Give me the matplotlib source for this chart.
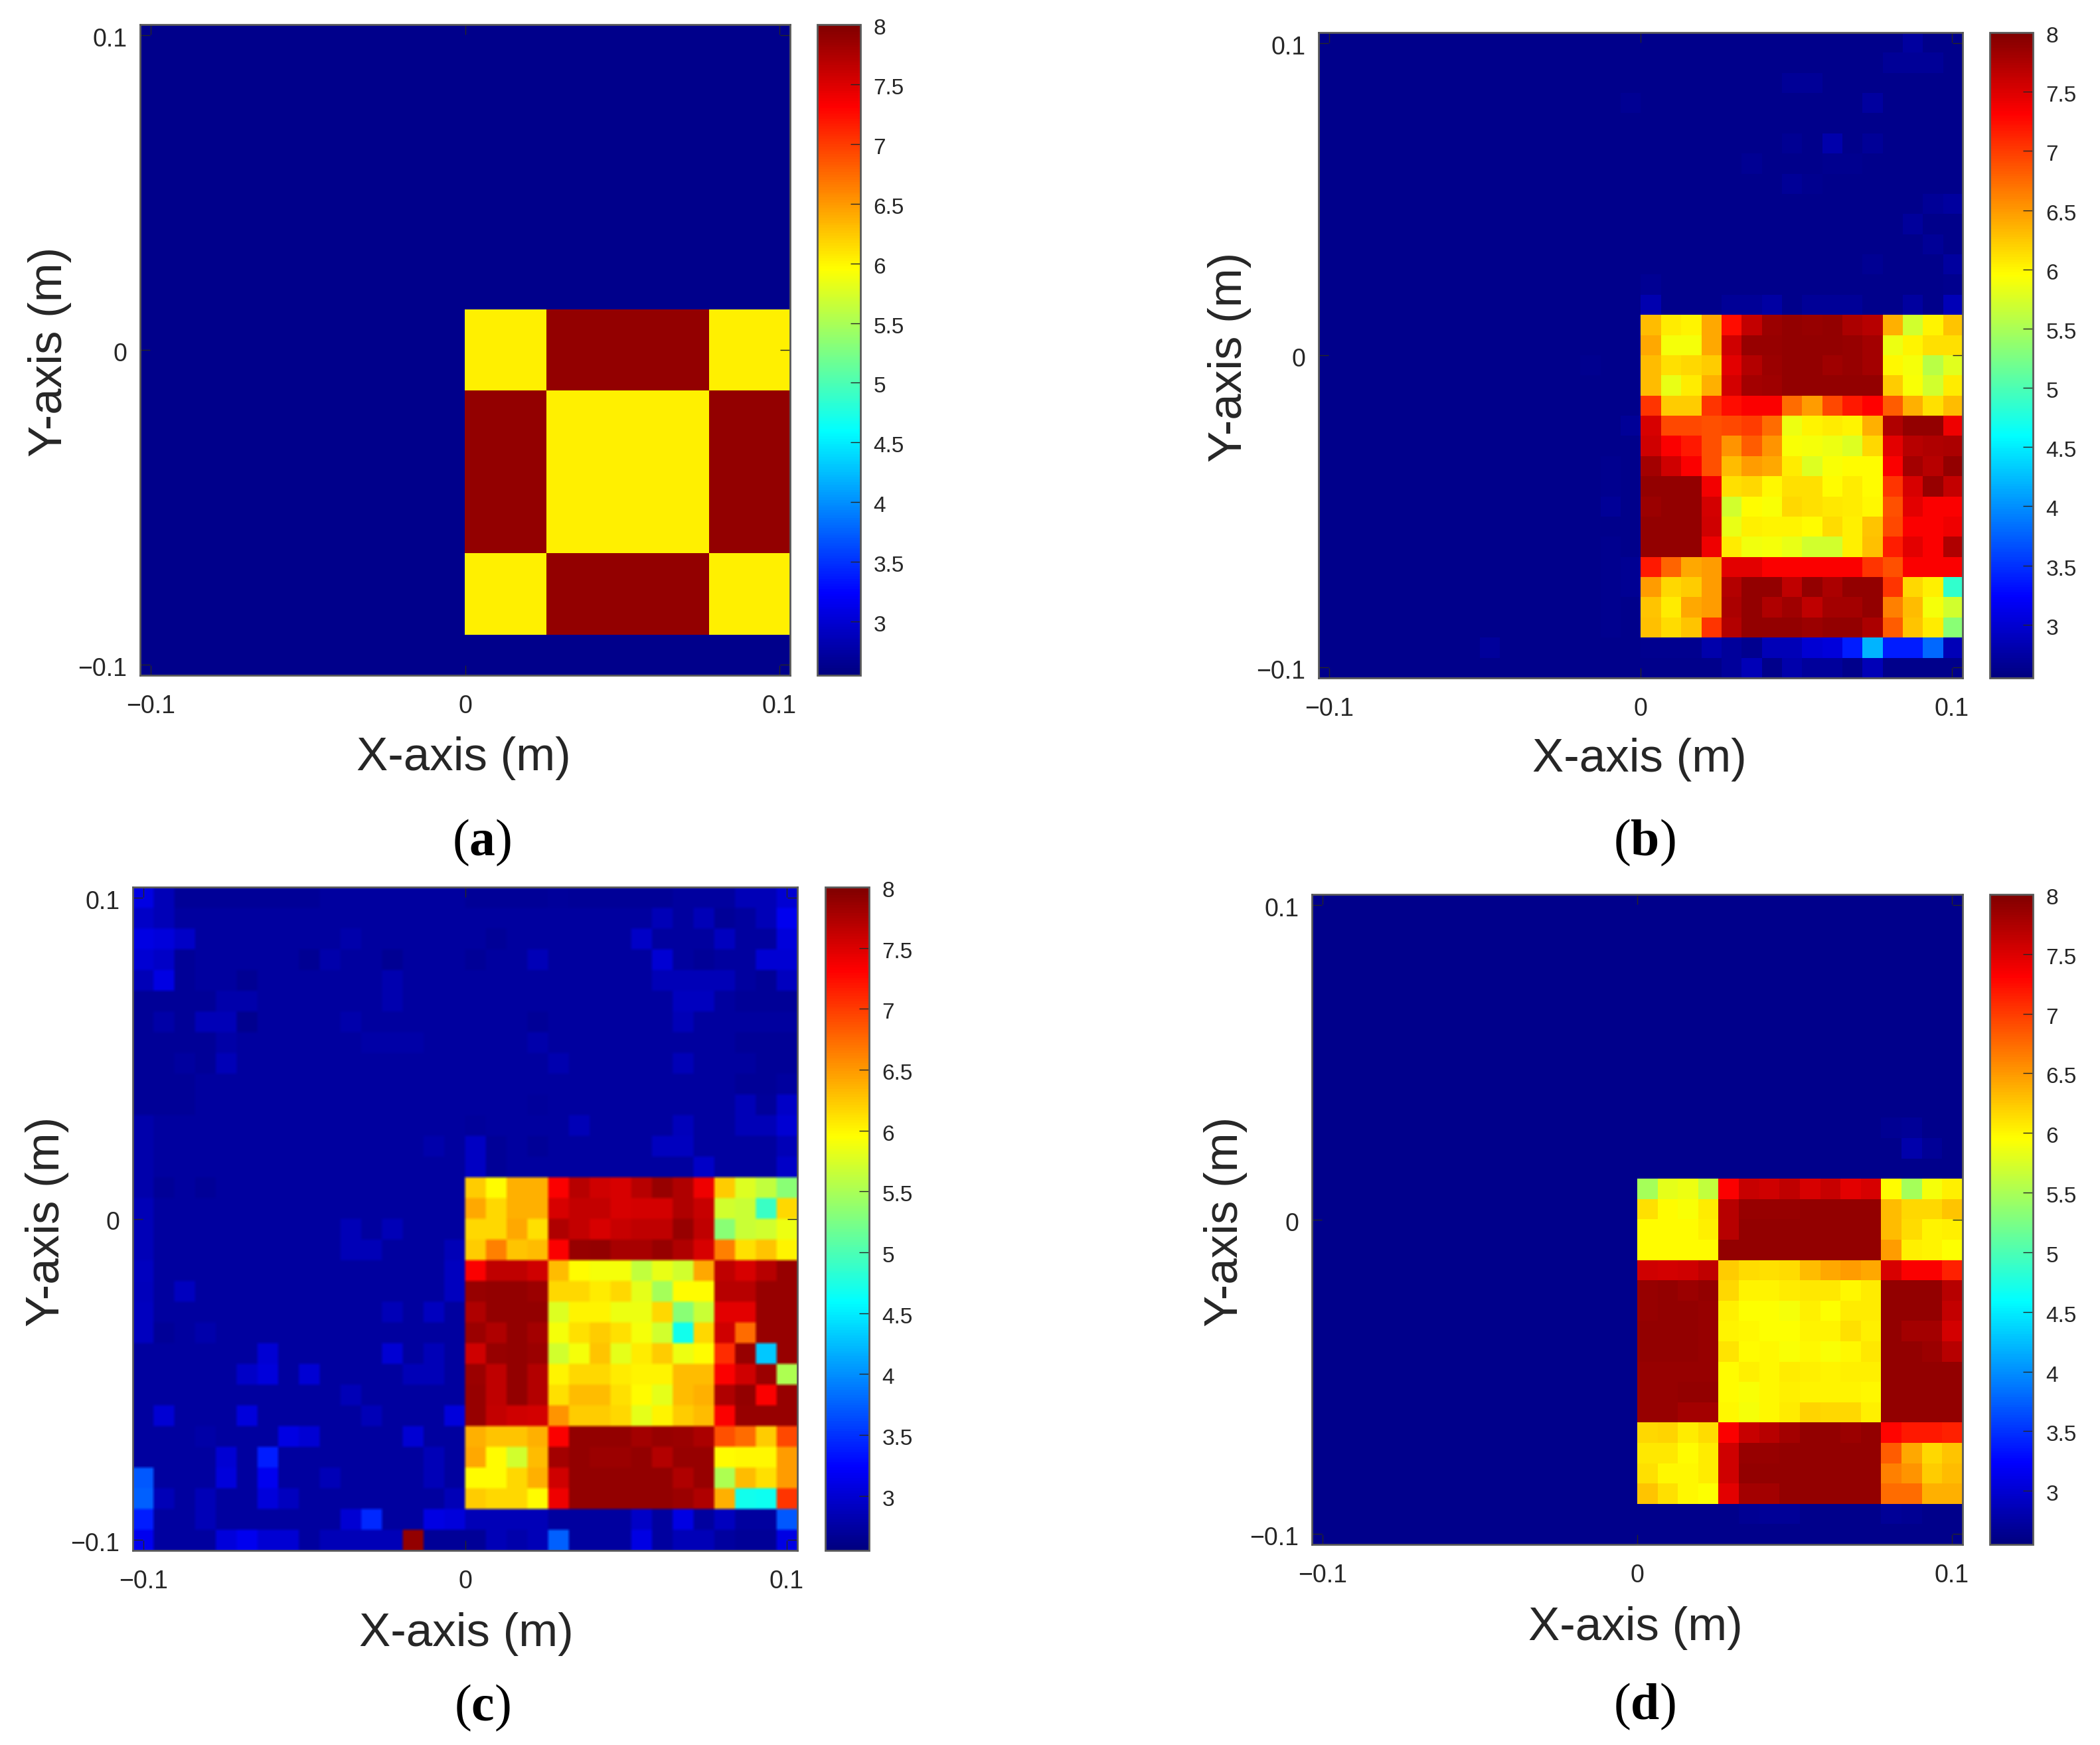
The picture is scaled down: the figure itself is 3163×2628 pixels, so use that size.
import numpy as np
import matplotlib
matplotlib.use("Agg")
import matplotlib.pyplot as plt
from matplotlib.colors import LinearSegmentedColormap, Normalize
from matplotlib.cm import ScalarMappable
from matplotlib.transforms import ScaledTranslation

plt.rcParams['font.family'] = ['Liberation Sans', 'DejaVu Sans']
plt.rcParams['mathtext.fontset'] = 'custom'
plt.rcParams['mathtext.rm'] = 'Liberation Serif'
plt.rcParams['mathtext.bf'] = 'Liberation Serif:bold'

# ---------- data: 16 x 16 object block of each panel, top row first ----------
Y, D = 6.18, 7.92
object_a = [[Y]*4 + [D]*8 + [Y]*4]*4 + [[D]*4 + [Y]*8 + [D]*4]*8 + [[Y]*4 + [D]*8 + [Y]*4]*4

object_b = [
 [6.45,6.2,6.15,6.55,7.35,7.7,7.88,7.92,7.9,7.92,7.82,7.75,6.5,5.85,6.15,6.4],
 [6.55,6.05,6.05,6.55,7.65,7.9,7.9,7.92,7.92,7.92,7.9,7.85,6.0,6.15,6.25,6.25],
 [6.45,6.25,6.3,6.35,7.55,7.78,7.88,7.92,7.92,7.87,7.9,7.85,6.12,6.03,5.72,5.92],
 [6.45,5.98,6.2,6.5,7.62,7.85,7.87,7.92,7.92,7.92,7.92,7.92,6.35,6.07,5.85,6.2],
 [7.15,6.35,6.35,7.15,7.35,7.45,7.45,6.85,6.6,7.05,7.3,7.42,6.95,6.5,6.25,6.45],
 [7.6,7.05,7.05,7.0,7.05,7.1,6.85,6.0,6.15,6.2,6.15,6.5,7.8,7.92,7.92,7.5],
 [7.65,7.45,7.3,7.0,6.65,6.95,6.65,6.07,6.03,6.0,5.9,6.3,7.55,7.75,7.8,7.82],
 [7.85,7.65,7.45,7.0,6.45,6.6,6.55,6.2,5.9,6.07,6.1,6.1,7.45,7.85,7.75,7.92],
 [7.92,7.92,7.92,7.48,6.25,6.3,6.12,6.25,6.25,6.1,6.2,6.1,7.15,7.6,7.9,7.7],
 [7.88,7.92,7.92,7.62,5.85,6.1,6.07,6.3,6.25,6.22,6.2,6.12,7.0,7.55,7.45,7.45],
 [7.92,7.92,7.92,7.65,5.97,6.18,6.15,6.15,6.1,6.27,6.17,6.4,7.05,7.45,7.45,7.5],
 [7.92,7.92,7.92,7.5,6.2,6.02,6.05,5.97,5.85,5.85,6.17,6.42,7.28,7.55,7.45,7.8],
 [7.3,6.9,6.55,6.6,7.55,7.55,7.45,7.45,7.45,7.45,7.45,7.15,7.0,7.45,7.45,7.45],
 [6.6,6.3,6.35,6.6,7.78,7.92,7.92,7.72,7.92,7.82,7.92,7.92,7.15,6.3,6.17,4.95],
 [6.4,6.2,6.55,6.6,7.82,7.92,7.8,7.87,7.72,7.85,7.85,7.92,6.75,6.45,6.03,5.85],
 [6.42,6.27,6.4,7.15,7.77,7.92,7.92,7.92,7.88,7.92,7.92,7.82,6.95,6.4,6.2,5.45],
]
object_c = [
 [6.35,6.1,6.5,6.5,7.45,7.75,7.65,7.6,7.75,7.9,7.8,7.5,6.35,5.9,5.75,5.45],
 [6.55,6.3,6.5,6.5,7.6,7.7,7.7,7.6,7.62,7.62,7.8,7.68,5.85,5.8,5.0,6.3],
 [6.3,6.3,6.55,6.25,7.8,7.7,7.6,7.68,7.72,7.72,7.9,7.72,5.45,5.8,5.85,6.0],
 [6.35,6.75,6.4,6.45,7.45,7.9,7.92,7.83,7.83,7.9,7.8,7.6,6.75,6.25,6.4,6.15],
 [7.45,7.72,7.72,7.65,6.45,6.1,6.05,6.05,5.75,5.98,5.85,6.55,7.72,7.6,7.75,7.9],
 [7.9,7.92,7.92,7.88,6.3,6.3,6.2,6.3,5.95,5.6,6.1,6.1,7.75,7.75,7.9,7.9],
 [7.8,7.92,7.92,7.92,5.9,6.15,6.15,6.0,6.0,6.3,5.45,5.8,7.55,7.55,7.9,7.9],
 [7.88,7.8,7.92,7.85,6.05,6.25,6.35,6.25,6.05,5.85,4.75,6.3,7.65,6.85,7.9,7.9],
 [7.65,7.9,7.92,7.88,5.85,6.05,6.4,5.95,6.2,6.35,6.0,6.1,7.2,7.9,4.3,7.9],
 [7.88,7.72,7.92,7.78,6.15,6.3,6.3,6.2,6.15,6.15,6.45,6.45,7.45,7.65,7.88,5.65],
 [7.9,7.72,7.92,7.78,6.25,6.45,6.45,6.25,6.1,5.95,6.45,6.5,7.8,7.92,7.45,7.9],
 [7.9,7.7,7.65,7.62,6.65,6.35,6.35,6.3,5.95,6.15,6.35,6.45,7.45,7.9,7.9,7.9],
 [6.5,6.4,6.4,6.5,7.45,7.92,7.92,7.92,7.85,7.9,7.88,7.82,7.0,6.85,6.35,7.05],
 [6.55,6.1,5.85,6.45,7.85,7.92,7.88,7.88,7.92,7.78,7.9,7.9,6.1,6.12,6.12,6.6],
 [6.1,6.1,6.3,6.5,7.65,7.92,7.92,7.92,7.92,7.92,7.8,7.9,5.65,6.45,6.25,6.6],
 [6.35,6.3,6.3,6.1,7.5,7.92,7.92,7.92,7.92,7.92,7.88,7.8,6.5,4.75,4.7,7.15],
]
object_d = [
 [5.6,5.95,6.0,5.75,7.45,7.68,7.65,7.72,7.6,7.68,7.55,7.6,6.1,5.6,6.03,6.17],
 [6.25,6.1,6.07,6.2,7.75,7.9,7.9,7.9,7.92,7.92,7.92,7.92,6.45,6.3,6.3,6.4],
 [6.1,6.1,6.1,6.17,7.75,7.92,7.92,7.92,7.92,7.92,7.92,7.92,6.45,6.28,6.15,6.17],
 [6.1,6.1,6.1,6.1,7.92,7.92,7.92,7.92,7.92,7.92,7.92,7.92,6.6,6.17,6.15,6.08],
 [7.65,7.62,7.65,7.72,6.35,6.28,6.25,6.28,6.45,6.55,6.6,6.55,7.6,7.45,7.45,7.25],
 [7.9,7.92,7.88,7.92,6.3,6.15,6.15,6.2,6.22,6.22,6.12,6.2,7.92,7.92,7.92,7.75],
 [7.9,7.92,7.92,7.9,6.17,6.08,6.08,6.05,6.17,6.08,6.2,6.2,7.92,7.92,7.92,7.7],
 [7.92,7.92,7.92,7.9,6.15,6.13,6.08,6.08,6.15,6.15,6.25,6.18,7.92,7.85,7.85,7.62],
 [7.92,7.92,7.92,7.9,6.23,6.1,6.13,6.07,6.12,6.07,6.12,6.22,7.92,7.92,7.88,7.75],
 [7.9,7.9,7.9,7.9,6.1,6.18,6.13,6.2,6.17,6.15,6.17,6.17,7.92,7.92,7.92,7.92],
 [7.9,7.9,7.92,7.92,6.1,6.07,6.13,6.18,6.15,6.15,6.15,6.12,7.92,7.92,7.92,7.92],
 [7.9,7.9,7.85,7.85,6.12,6.03,6.13,6.2,6.32,6.3,6.3,6.17,7.92,7.92,7.92,7.92],
 [6.3,6.32,6.2,6.27,7.45,7.68,7.75,7.85,7.92,7.92,7.88,7.92,7.4,7.3,7.3,7.25],
 [6.22,6.22,6.1,6.2,7.65,7.9,7.9,7.92,7.92,7.92,7.92,7.92,6.95,6.55,6.3,6.4],
 [6.25,6.13,6.12,6.2,7.65,7.92,7.92,7.92,7.92,7.92,7.92,7.92,6.75,6.65,6.35,6.45],
 [6.4,6.25,6.13,6.08,7.55,7.85,7.85,7.92,7.92,7.92,7.92,7.92,6.85,6.85,6.5,6.5],
]

# background level of each panel
background_a = 2.63
background_b = 2.63
background_c = 2.74
background_d = 2.63

# the cells outside the object that differ from the background: (row, col, value)
scatter_b = [
 (0,29,2.73),(1,28,2.68),(1,29,2.68),(1,30,2.68),(2,23,2.68),(2,24,2.68),(3,15,2.66),(3,27,2.73),
 (5,23,2.66),(5,25,2.8),(5,27,2.68),(6,21,2.66),(6,25,2.65),(6,26,2.65),(7,23,2.68),(7,24,2.65),
 (8,30,2.68),(8,31,2.73),(9,29,2.7),(10,30,2.68),(11,27,2.66),(11,31,2.73),(12,16,2.66),(12,31,2.65),
 (13,16,2.82),(13,20,2.68),(13,21,2.68),(13,22,2.76),(13,24,2.68),(13,25,2.68),(13,26,2.68),(13,29,2.73),(13,31,2.85),
 (16,13,2.65),(19,15,2.68),(21,14,2.65),(22,14,2.65),(23,14,2.68),(25,14,2.65),(26,14,2.65),(26,15,2.66),
 (27,14,2.65),(27,15,2.66),(28,14,2.65),(29,14,2.65),(30,8,2.7),
 (30,16,2.65),(30,17,2.65),(30,18,2.65),(30,19,2.8),(30,20,2.7),(30,21,2.65),(30,22,2.85),(30,23,2.85),
 (30,24,3.0),(30,25,3.05),(30,26,3.4),(30,27,4.2),(30,28,3.4),(30,29,3.4),(30,30,3.8),(30,31,2.85),
 (31,20,2.7),(31,21,2.85),(31,23,2.8),(31,24,2.7),(31,25,2.7),(31,27,2.85),
]
scatter_c = [
 (0,0,3.1),(0,1,2.85),(0,2,2.68),(0,3,2.68),(0,4,2.68),(0,5,2.68),(0,6,2.68),(0,7,2.68),(0,8,2.68),
 (0,16,2.68),(0,17,2.68),(0,18,2.68),(0,19,2.68),(0,20,2.7),(0,21,2.68),(0,22,2.68),(0,23,2.68),(0,24,2.68),(0,25,2.68),
 (0,29,2.85),(0,30,2.85),(0,31,3.0),
 (1,0,2.95),(1,1,2.85),(1,25,2.85),(1,27,2.85),(1,28,2.68),(1,30,2.85),(1,31,3.15),
 (2,0,3.1),(2,1,3.05),(2,2,2.95),(2,10,2.8),(2,17,2.68),(2,24,2.95),(2,28,2.9),(2,31,3.05),
 (3,0,3.0),(3,1,2.95),(3,2,2.68),(3,8,2.66),(3,9,2.8),(3,12,2.66),(3,16,2.68),(3,19,2.85),(3,25,3.0),(3,27,2.68),(3,30,3.0),(3,31,3.0),
 (4,0,2.85),(4,1,3.1),(4,2,2.68),(4,5,2.66),(4,12,2.82),(4,25,2.85),(4,26,2.85),(4,27,2.85),(4,28,2.85),(4,30,2.68),(4,31,2.9),
 (5,0,2.68),(5,1,2.68),(5,2,2.68),(5,3,2.68),(5,4,2.8),(5,5,2.8),(5,12,2.82),(5,26,2.9),(5,27,2.9),(5,29,2.68),(5,30,2.68),(5,31,2.68),
 (6,0,2.68),(6,1,2.78),(6,2,2.68),(6,3,2.85),(6,4,2.85),(6,5,2.65),(6,10,2.8),(6,19,2.68),(6,26,2.85),
 (7,0,2.68),(7,1,2.68),(7,2,2.68),(7,3,2.68),(7,4,2.78),(7,11,2.78),(7,12,2.78),(7,13,2.78),(7,19,2.8),(7,29,2.68),(7,30,2.68),(7,31,2.68),
 (8,0,2.68),(8,1,2.68),(8,3,2.68),(8,4,2.85),(8,20,2.82),(8,26,2.85),(8,30,2.68),(8,31,2.68),
 (9,0,2.68),(9,1,2.68),(9,2,2.68),(9,29,2.68),(9,30,2.68),
 (10,0,2.68),(10,1,2.68),(10,2,2.68),(10,19,2.7),(10,29,2.85),(10,30,2.7),(10,31,2.95),
 (11,0,2.8),(11,16,2.7),(11,21,2.85),(11,26,2.88),(11,29,2.85),(11,30,2.85),(11,31,3.0),
 (12,0,2.8),(12,14,2.8),(12,16,2.92),(12,17,2.68),(12,19,2.68),(12,25,2.9),(12,26,2.9),(12,31,2.85),
 (13,0,2.8),(13,16,2.92),(13,17,2.68),(13,27,2.95),(13,31,2.95),
 (14,0,2.8),(14,1,2.68),(14,3,2.68),(15,0,2.85),
 (16,0,2.85),(16,10,2.85),(16,12,2.85),(17,0,2.85),(17,10,2.85),(17,11,2.85),(17,15,2.85),
 (18,0,2.9),(18,15,2.9),(19,0,2.88),(19,2,2.9),(19,15,2.9),(20,0,2.9),(20,12,2.85),(20,14,2.9),
 (21,0,2.9),(21,3,2.8),(21,1,2.68),(22,6,3.0),(22,12,3.0),(22,14,2.85),(23,5,2.95),(23,6,3.05),(23,8,3.0),(23,13,2.85),(23,14,2.85),
 (24,10,2.85),(25,1,3.0),(25,5,3.05),(25,11,2.85),(25,15,3.05),(26,3,2.78),(26,7,3.1),(26,8,3.0),(26,13,3.0),
 (27,4,3.0),(27,6,3.4),(27,14,2.85),(28,0,3.7),(28,4,3.05),(28,6,3.15),(28,9,2.85),(28,14,2.85),
 (29,0,3.75),(29,1,2.85),(29,3,2.85),(29,6,3.05),(29,7,2.9),(29,15,2.85),
 (30,0,3.4),(30,3,2.85),(30,10,3.0),(30,11,3.45),(30,14,3.1),(30,15,3.05),
 (30,16,2.85),(30,17,2.85),(30,18,2.85),(30,19,2.85),(30,24,2.95),(30,26,3.1),(30,28,2.9),(30,31,3.7),
 (31,0,3.15),(31,4,3.05),(31,5,3.15),(31,6,3.0),(31,7,3.0),(31,9,2.85),(31,10,2.85),(31,11,2.85),(31,12,2.85),
 (31,13,7.92),(31,14,2.68),(31,15,2.68),(31,16,2.68),(31,17,2.85),(31,18,2.8),(31,19,2.85),(31,20,3.75),(31,24,3.1),(31,26,2.85),(31,27,2.85),(31,29,2.68),(31,30,2.68),(31,31,3.1),
]
scatter_d = [
 (11,28,2.66),(11,29,2.68),(12,29,2.8),(12,30,2.68),(30,21,2.66),(30,22,2.68),(30,23,2.68),(30,28,2.68),(30,29,2.66),
]

# axis ticks and labels
position_ticks = [-0.1, 0, 0.1]
position_labels = ['\u22120.1', '0', '0.1']
scale_ticks = [3, 3.5, 4, 4.5, 5, 5.5, 6, 6.5, 7, 7.5, 8]
scale_labels = ['3', '3.5', '4', '4.5', '5', '5.5', '6', '6.5', '7', '7.5', '8']
x_title = 'X-axis (m)'
y_title = 'Y-axis (m)'
panel_letters = ['a', 'b', 'c', 'd']

# ---------- styling ----------
W, H = 3163, 2628
half_extent = 0.1034
vmin, vmax = 2.55, 8.0
text_c = '#262626'
edge_c = '#5a5a5a'
jet_matlab = LinearSegmentedColormap.from_list('jet_matlab', [
    (0.0, (0, 0, .5)), (.125, (0, 0, 1)), (.375, (0, 1, 1)),
    (.625, (1, 1, 0)), (.875, (1, 0, 0)), (1.0, (.5, 0, 0))], N=256)


def calibrate(v):
    """The readings were taken on a slightly different colour scale; bring them to the bar's."""
    return np.interp(v, [2.5, 4.5, 5.0, 6.12, 7.45, 7.92, 8.03],
                     [2.5, 4.5, 4.9, 5.98, 7.34, 7.88, 8.0])


def grid(obj, background, scatter):
    g = np.full((32, 32), float(background))
    g[14:30, 16:32] = obj
    for r, c, v in scatter:
        g[r, c] = v
    return calibrate(g)


def axbox(l, r, t, b):
    return [l / W, 1 - b / H, (r - l) / W, (b - t) / H]


panels = [
    dict(grid=grid(object_a, background_a, []), ax=(211, 1190, 37, 1017), cb=(1231, 1296),
         xl=(698, 1142), yl=(75, 530), let=(726, 1269), soft=False),
    dict(grid=grid(object_b, background_b, scatter_b), ax=(1986, 2956, 49, 1021), cb=(2997, 3062),
         xl=(2469, 1144), yl=(1852, 538), let=(2477, 1269), soft=False),
    dict(grid=grid(object_c, background_c, scatter_c), ax=(200, 1201, 1336, 2335), cb=(1243, 1309),
         xl=(702, 2461), yl=(71, 1840), let=(726, 2572), soft=True),
    dict(grid=grid(object_d, background_d, scatter_d), ax=(1976, 2956, 1347, 2326), cb=(2997, 3062),
         xl=(2463, 2452), yl=(1846, 1840), let=(2477, 2570), soft=False),
]

fig = plt.figure(figsize=(W / 100, H / 100), dpi=100, facecolor='white')
norm = Normalize(vmin, vmax)
label_shift = ScaledTranslation(0, -3 / 100, fig.dpi_scale_trans)

for p, letter in zip(panels, panel_letters):
    l, r, t, b = p['ax']
    ax = fig.add_axes(axbox(l, r, t, b))
    if p['soft']:
        # this panel is a slightly blurred bitmap in the reference
        img = np.kron(p['grid'], np.ones((6, 6)))
        ax.imshow(img, cmap=jet_matlab, norm=norm, origin='upper', interpolation='bilinear',
                  interpolation_stage='rgba',
                  extent=[-half_extent, half_extent, -half_extent, half_extent], aspect='auto')
    else:
        ax.imshow(p['grid'], cmap=jet_matlab, norm=norm, origin='upper', interpolation='nearest',
                  extent=[-half_extent, half_extent, -half_extent, half_extent], aspect='auto')
    ax.set_xticks(position_ticks, position_labels)
    ax.set_yticks(position_ticks, position_labels)
    ax.tick_params(axis='both', direction='in', length=11, width=1.0, color=text_c,
                   labelcolor=text_c, labelsize=27, top=True, right=True)
    ax.tick_params(axis='x', pad=21)
    ax.tick_params(axis='y', pad=14)
    for s in ax.spines.values():
        s.set_color(edge_c)
        s.set_linewidth(2.0)
    ax.set_xlabel(x_title, fontsize=51, color=text_c, va='center', ha='center')
    ax.xaxis.set_label_coords((p['xl'][0] - l) / (r - l), (b - p['xl'][1]) / (b - t))
    ax.set_ylabel(y_title, fontsize=51, color=text_c, va='center', ha='center')
    ax.yaxis.set_label_coords((p['yl'][0] - l) / (r - l), (b - p['yl'][1]) / (b - t))
    for lab in ax.get_yticklabels():
        lab.set_transform(lab.get_transform() + label_shift)

    cax = fig.add_axes(axbox(p['cb'][0], p['cb'][1], t, b))
    cbar = fig.colorbar(ScalarMappable(norm=norm, cmap=jet_matlab), cax=cax)
    cbar.set_ticks(scale_ticks, labels=scale_labels)
    cax.tick_params(axis='y', direction='in', length=11, width=1.0, color=text_c,
                    labelcolor=text_c, labelsize=24, pad=14)
    cbar.outline.set_edgecolor(edge_c)
    cbar.outline.set_linewidth(2.0)
    for lab in cax.get_yticklabels():
        lab.set_transform(lab.get_transform() + label_shift)

    fig.text(p['let'][0] / W, 1 - p['let'][1] / H,
             f'$\\mathrm{{(}}\\mathbf{{{letter}}}\\mathrm{{)}}$', fontsize=56,
             color='black', ha='center', va='center')

fig.savefig('out.png', dpi=100, facecolor='white')
